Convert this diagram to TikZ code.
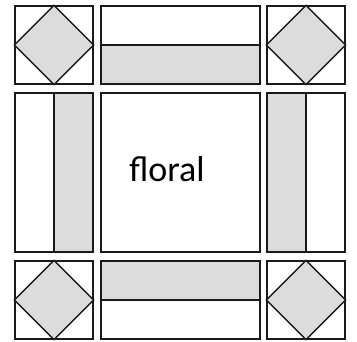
\documentclass[tikz,border=0pt]{standalone}
\usepackage{fontspec}
\setmainfont{Carlito}
\usepackage{tikz}
\usetikzlibrary{positioning}
\definecolor{patch}{HTML}{DCDCDC}
\definecolor{ink}{HTML}{1A1A1A}

\begin{document}
\begin{tikzpicture}[x=1pt, y=-1pt,
  cell/.style={draw=ink, line width=1.4pt, inner sep=0pt},
  sq/.style={cell, minimum width=78pt, minimum height=78pt},
  wide/.style={cell, minimum width=159pt, minimum height=39pt},
  tall/.style={cell, minimum width=39pt, minimum height=159pt}
]
  \fill[white] (0,0) rectangle (357,342);
  \useasboundingbox (0,0) rectangle (357,342);

  % corner squares with diamonds
  \foreach \n/\x/\y in {tl/54/45, tr/306/45, bl/54/300, br/306/300} {
    \node[sq] (\n) at (\x,\y) {};
    \draw[cell, fill=patch] (\n.north) -- (\n.east) -- (\n.south) -- (\n.west) -- cycle;
  }

  % border strips
  \node[wide] (topa) at (180.5,25.5) {};
  \node[wide, fill=patch] (topb) at (180.5,64.5) {};
  \node[wide, fill=patch] (bota) at (180.5,280.5) {};
  \node[wide] (botb) at (180.5,319.5) {};
  \node[tall] (lefta) at (34.5,172.5) {};
  \node[tall, fill=patch] (leftb) at (73.5,172.5) {};
  \node[tall, fill=patch] (righta) at (286.5,172.5) {};
  \node[tall] (rightb) at (325.5,172.5) {};

  % centre block
  \node[cell, minimum width=159pt, minimum height=159pt] (centre) at (180.5,172.5) {};
  \node[font=\fontsize{36}{40}\selectfont, anchor=base, inner sep=0pt] (label) at (167,182) {floral};
\end{tikzpicture}
\end{document}
